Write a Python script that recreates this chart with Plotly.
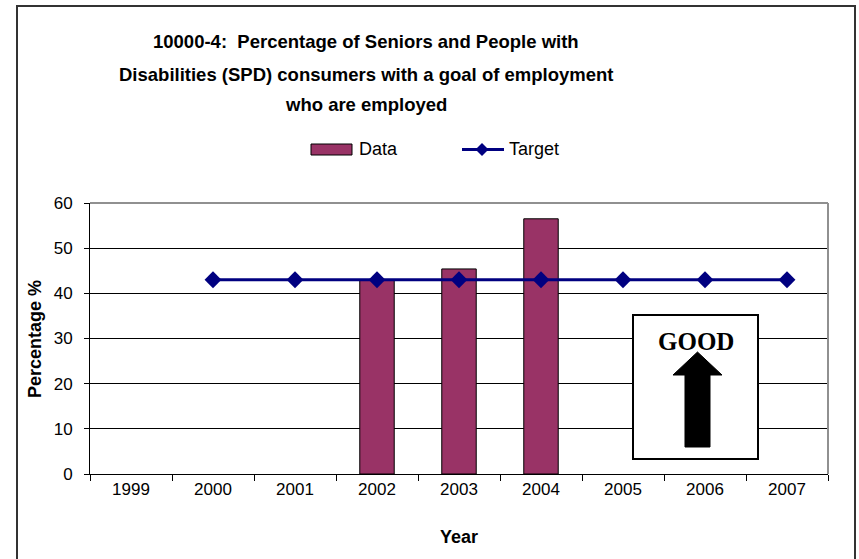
import plotly.graph_objects as go

# Chart data
years = ["1999", "2000", "2001", "2002", "2003", "2004", "2005", "2006", "2007"]
data_years = ["2002", "2003", "2004"]
data_values = [42.9, 45.4, 56.5]
target_years = ["2000", "2001", "2002", "2003", "2004", "2005", "2006", "2007"]
target_values = [43, 43, 43, 43, 43, 43, 43, 43]
y_ticks = [0, 10, 20, 30, 40, 50, 60]

title_lines = [
    "10000-4:  Percentage of Seniors and People with",
    "Disabilities (SPD) consumers with a goal of employment",
    "who are employed",
]

W, H = 859, 559
L, R, T, B = 90, 828, 203, 474   # plot area in pixels


def px(x):
    return (x - L) / (R - L)


def py(y):
    return (B - y) / (B - T)


BAR = "#993366"
NAVY = "#000080"
FONT = "Liberation Sans, Arial, sans-serif"

fig = go.Figure()

fig.add_trace(go.Bar(
    x=data_years, y=data_values, name="Data",
    marker=dict(color=BAR, line=dict(color="#000000", width=1)),
    width=0.42,
))
fig.add_trace(go.Scatter(
    x=target_years, y=target_values, name="Target", mode="lines+markers",
    line=dict(color=NAVY, width=3),
    marker=dict(symbol="diamond", size=13, color=NAVY),
))

shapes = []
# outer frame
shapes.append(dict(type="rect", xref="paper", yref="paper",
                   x0=px(17), x1=px(855), y0=py(580), y1=py(6),
                   line=dict(color="#333333", width=2), layer="below"))
# plot-area border (top/right grey)
shapes.append(dict(type="line", xref="paper", yref="paper",
                   x0=0, x1=1, y0=1, y1=1,
                   line=dict(color="#909090", width=2), layer="above"))
shapes.append(dict(type="line", xref="paper", yref="paper",
                   x0=1, x1=1, y0=0, y1=1,
                   line=dict(color="#909090", width=2), layer="above"))
# GOOD box
shapes.append(dict(type="rect", xref="paper", yref="paper",
                   x0=px(633), x1=px(758), y0=py(459), y1=py(315),
                   fillcolor="white", line=dict(color="#000000", width=2),
                   layer="above"))
# upward arrow
pts = [(685, 447), (710, 447), (710, 375), (722, 375), (697.5, 352),
       (673, 375), (685, 375)]
path = "M " + " L ".join(f"{px(a):.5f},{py(b):.5f}" for a, b in pts) + " Z"
shapes.append(dict(type="path", xref="paper", yref="paper", path=path,
                   fillcolor="#000000", line=dict(color="#000000", width=1),
                   layer="above"))
# legend keys
shapes.append(dict(type="rect", xref="paper", yref="paper",
                   x0=px(311), x1=px(352), y0=py(155), y1=py(144),
                   fillcolor=BAR, line=dict(color="#000000", width=1)))
shapes.append(dict(type="line", xref="paper", yref="paper",
                   x0=px(462), x1=px(504), y0=py(149.5), y1=py(149.5),
                   line=dict(color=NAVY, width=3)))
d = 6.5
shapes.append(dict(type="path", xref="paper", yref="paper",
                   path=(f"M {px(482):.5f},{py(149.5 - d):.5f} "
                         f"L {px(482 + d):.5f},{py(149.5):.5f} "
                         f"L {px(482):.5f},{py(149.5 + d):.5f} "
                         f"L {px(482 - d):.5f},{py(149.5):.5f} Z"),
                   fillcolor=NAVY, line=dict(color=NAVY, width=0)))

annotations = []
for txt, yc in zip(title_lines, [41, 74, 104]):
    annotations.append(dict(text=f"<b>{txt}</b>", xref="paper", yref="paper",
                            x=px(366), y=py(yc), xanchor="center", yanchor="middle",
                            showarrow=False, font=dict(family=FONT, size=18.5, color="#000")))
annotations.append(dict(text="Data", xref="paper", yref="paper", x=px(357), y=py(149.5),
                        xanchor="left", yanchor="middle", showarrow=False,
                        font=dict(family=FONT, size=18, color="#000")))
annotations.append(dict(text="Target", xref="paper", yref="paper", x=px(507), y=py(149.5),
                        xanchor="left", yanchor="middle", showarrow=False,
                        font=dict(family=FONT, size=18, color="#000")))
annotations.append(dict(text="<b>Year</b>", xref="paper", yref="paper", x=px(459), y=py(537),
                        xanchor="center", yanchor="middle", showarrow=False,
                        font=dict(family=FONT, size=18, color="#000")))
annotations.append(dict(text="<b>Percentage %</b>", xref="paper", yref="paper", x=px(35),
                        y=py(339), xanchor="center", yanchor="middle", textangle=-90,
                        showarrow=False, font=dict(family=FONT, size=18, color="#000")))
annotations.append(dict(text="<b>GOOD</b>", xref="paper", yref="paper", x=px(695.5),
                        y=py(341), xanchor="center", yanchor="middle", showarrow=False,
                        font=dict(family="Liberation Serif, Times New Roman, serif",
                                  size=25, color="#000")))

fig.update_layout(
    width=W, height=H,
    margin=dict(l=L, r=W - R, t=T, b=H - B, pad=0),
    paper_bgcolor="white", plot_bgcolor="white",
    showlegend=False,
    bargap=0.58,
    shapes=shapes,
    annotations=annotations,
    font=dict(family=FONT, size=17, color="#000"),
)
fig.update_xaxes(
    type="category", categoryorder="array", categoryarray=years,
    range=[-0.5, 8.5], tickson="boundaries", ticks="outside", ticklen=6,
    tickcolor="#000", showline=True, linecolor="#000", linewidth=1,
    showgrid=False, tickfont=dict(size=17), fixedrange=True,
)
fig.update_yaxes(
    range=[0, 60], tickvals=y_ticks, ticks="outside", ticklen=5,
    tickcolor="#000", showline=True, linecolor="#000", linewidth=1,
    showgrid=True, gridcolor="#000", gridwidth=1, zeroline=False,
    tickfont=dict(size=17), ticklabelstandoff=8, fixedrange=True,
)

fig.write_html("out.html")
